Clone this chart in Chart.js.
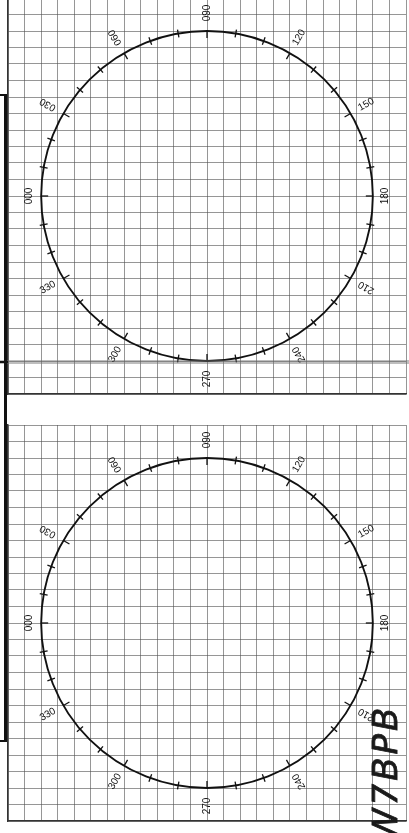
<!DOCTYPE html>
<html>
<head>
<meta charset="utf-8">
<script src="https://cdn.jsdelivr.net/npm/chart.js@4.4.1/dist/chart.umd.min.js"></script>
<style>
  body { margin: 0; background: #fff; width: 409px; height: 833px; overflow: hidden; position: relative; }
  canvas { position: absolute; }
  .ink { position: absolute; background: #111; }
  .smudge { position: absolute; left: 0; top: 360px; width: 409px; height: 4px; background: rgba(110,110,110,0.45); }
  .note { position: absolute; left: 312px; top: 745px; width: 150px; height: 44px; line-height: 44px;
          text-align: left; font: italic 34px "DejaVu Sans", sans-serif; color: #1a1a1a;
          transform: rotate(-90deg); letter-spacing: 3px; -webkit-text-stroke: 0.8px #1a1a1a; }
</style>
</head>
<body>
<canvas id="topRose" width="402" height="400" style="left:6px;top:-4px"></canvas>
<canvas id="bottomRose" width="402" height="400" style="left:6px;top:423px"></canvas>
<div class="smudge"></div>
<div class="ink" style="left:4px;top:95px;width:2.5px;height:647px"></div>
<div class="ink" style="left:0;top:94px;width:7px;height:2px"></div>
<div class="ink" style="left:0;top:361px;width:8px;height:2px"></div>
<div class="ink" style="left:0;top:740px;width:7px;height:2px"></div>
<div class="note">W7BPB</div>
<script>
// bearings (deg, clockwise, 000 on the left) for the small tick marks
const tickBearings = [0, 10, 20, 30, 40, 50, 60, 70, 80, 90, 100, 110, 120, 130, 140, 150, 160, 170,
                      180, 190, 200, 210, 220, 230, 240, 250, 260, 270, 280, 290, 300, 310, 320, 330, 340, 350];
const labelBearings = [0, 30, 60, 90, 120, 150, 180, 210, 240, 270, 300, 330];
const labelTexts = ["000", "030", "060", "090", "120", "150", "180", "210", "240", "270", "300", "330"];
const ringRadius = 10;   // in grid squares
const gridMin = -12;
const gridMax = 12;

const rosePlugin = {
  id: "rose",
  afterDraw(chart) {
    const { ctx, scales: { x, y } } = chart;
    const cx = x.getPixelForValue(0);
    const cy = y.getPixelForValue(0);
    const rx = x.getPixelForValue(ringRadius) - cx;
    const ry = cy - y.getPixelForValue(ringRadius);

    ctx.save();
    ctx.strokeStyle = "#111";
    ctx.lineWidth = 1.9;
    ctx.beginPath();
    ctx.ellipse(cx, cy, rx, ry, 0, 0, Math.PI * 2);
    ctx.stroke();

    // point on the ring + outward unit vector
    const onRing = (b) => {
      const a = b * Math.PI / 180;
      const px = x.getPixelForValue(-ringRadius * Math.cos(a));
      const py = y.getPixelForValue(ringRadius * Math.sin(a));
      return { px, py, ux: -Math.cos(a), uy: -Math.sin(a) };
    };

    ctx.lineWidth = 1.3;
    tickBearings.forEach((b) => {
      const p = onRing(b);
      ctx.beginPath();
      if (labelBearings.includes(b)) {
        ctx.moveTo(p.px, p.py);
        ctx.lineTo(p.px - 7 * p.ux, p.py - 7 * p.uy);
      } else {
        ctx.moveTo(p.px + 4 * p.ux, p.py + 4 * p.uy);
        ctx.lineTo(p.px - 4 * p.ux, p.py - 4 * p.uy);
      }
      ctx.stroke();
    });

    ctx.fillStyle = "#111";
    ctx.font = '10px "Liberation Sans", Arial, sans-serif';
    ctx.textAlign = "center";
    ctx.textBaseline = "middle";
    labelBearings.forEach((b, i) => {
      const p = onRing(b);
      const cardinal = b % 90 === 0;
      const off = (b === 0 || b === 180) ? 12 : 18;
      const rot = cardinal ? -90 : (b % 180) - 180;
      ctx.save();
      ctx.translate(p.px + off * p.ux, p.py + off * p.uy);
      ctx.rotate(rot * Math.PI / 180);
      ctx.fillText(labelTexts[i], 0, 0);
      ctx.restore();
    });
    ctx.restore();
  }
};

function makeRose(id) {
  const axis = {
    type: "linear",
    min: gridMin,
    max: gridMax,
    ticks: { display: false, stepSize: 1 },
    grid: { color: "rgba(80,80,80,0.6)", lineWidth: 1, drawTicks: false },
    border: { color: "#333", width: 1.5 }
  };
  return new Chart(document.getElementById(id).getContext("2d"), {
    type: "scatter",
    data: { datasets: [] },
    options: {
      responsive: false,
      animation: false,
      layout: { padding: 2 },
      plugins: { legend: { display: false }, tooltip: { enabled: false } },
      scales: { x: axis, y: axis }
    },
    plugins: [rosePlugin]
  });
}

makeRose("topRose");
makeRose("bottomRose");
</script>
</body>
</html>
